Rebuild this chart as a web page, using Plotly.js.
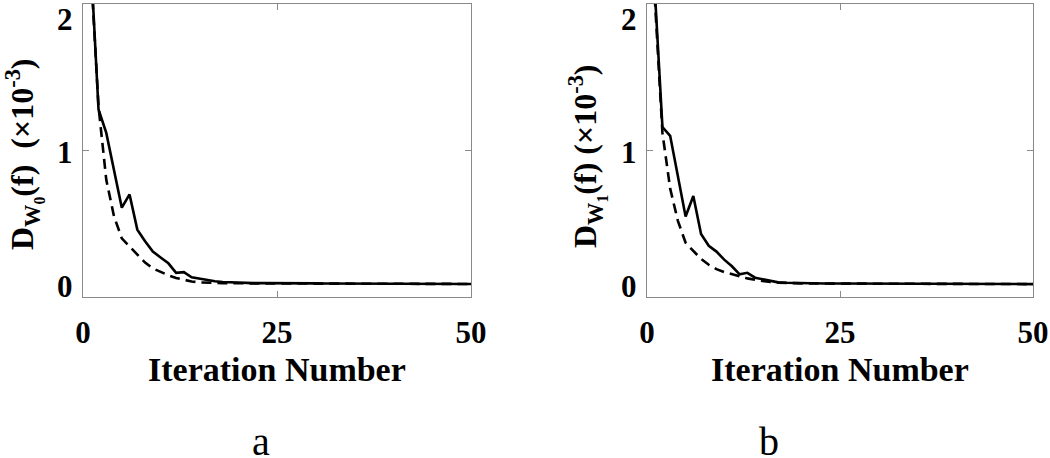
<!DOCTYPE html>
<html>
<head>
<meta charset="utf-8">
<script src="https://cdn.plot.ly/plotly-3.0.1.min.js"></script>
<style>html,body{margin:0;padding:0;background:#fff;}#chart{width:1050px;height:458px;}</style>
</head>
<body>
<div id="chart"></div>
<script>
// Iteration numbers
const iterations = Array.from({length: 50}, (_, i) => i + 1);

// Panel a (W0) values, x10^-3
const aSolid = [2.30,1.28,1.12,0.865,0.61,0.70,0.46,0.38,0.31,0.27,
                0.23,0.165,0.17,0.135,0.125,0.115,0.108,0.102,0.099,0.097,
                0.096,0.095,0.095,0.094,0.094,0.094,0.093,0.093,0.093,0.093,
                0.092,0.092,0.092,0.092,0.091,0.091,0.091,0.091,0.091,0.090,
                0.090,0.090,0.090,0.090,0.089,0.089,0.089,0.089,0.089,0.089];
const aDashed = [2.25,1.30,0.80,0.55,0.40,0.345,0.29,0.235,0.195,0.17,
                 0.148,0.13,0.116,0.106,0.100,0.097,0.095,0.094,0.094,0.093,
                 0.093,0.093,0.092,0.092,0.092,0.092,0.092,0.091,0.091,0.091,
                 0.091,0.091,0.091,0.090,0.090,0.090,0.090,0.090,0.090,0.090,
                 0.089,0.089,0.089,0.089,0.089,0.089,0.089,0.089,0.089,0.089];

// Panel b (W1) values, x10^-3
const bSolid = [2.10,1.16,1.10,0.82,0.55,0.69,0.43,0.35,0.31,0.255,
                0.21,0.155,0.165,0.132,0.12,0.11,0.10,0.097,0.095,0.094,
                0.093,0.093,0.092,0.092,0.092,0.091,0.091,0.091,0.091,0.090,
                0.090,0.090,0.090,0.090,0.089,0.089,0.089,0.089,0.089,0.089,
                0.089,0.088,0.088,0.088,0.088,0.088,0.088,0.088,0.088,0.088];
const bDashed = [2.05,1.12,0.74,0.52,0.37,0.315,0.26,0.22,0.19,0.17,
                 0.155,0.14,0.127,0.117,0.108,0.102,0.098,0.095,0.094,0.093,
                 0.092,0.092,0.092,0.091,0.091,0.091,0.091,0.090,0.090,0.090,
                 0.090,0.090,0.089,0.089,0.089,0.089,0.089,0.089,0.089,0.089,
                 0.088,0.088,0.088,0.088,0.088,0.088,0.088,0.088,0.088,0.088];

// Tick labels
const xTicks = [0, 25, 50];
const yTicks = [0, 1, 2];
const xTitle = 'Iteration Number';
const yTitleA = 'D<sub>W<sub>0</sub></sub>(f)  (\u00d710<sup>-3</sup>)';
const yTitleB = 'D<sub>W<sub>1</sub></sub>(f) (\u00d710<sup>-3</sup>)';
const panelLabels = ['a', 'b'];

const W = 1050, H = 458;
const px = v => v / W;
const py = v => 1 - v / H;

const solidLine = {color: '#000', width: 2.6};
const dashedLine = {color: '#000', width: 2.6, dash: '10px,6px'};

const traces = [
  {x: iterations, y: aDashed, xaxis: 'x', yaxis: 'y', mode: 'lines', line: dashedLine},
  {x: iterations, y: aSolid, xaxis: 'x', yaxis: 'y', mode: 'lines', line: solidLine},
  {x: iterations, y: bDashed, xaxis: 'x2', yaxis: 'y2', mode: 'lines', line: dashedLine},
  {x: iterations, y: bSolid, xaxis: 'x2', yaxis: 'y2', mode: 'lines', line: solidLine}
];

const FAMILY = 'Liberation Serif, Times New Roman, serif';
const tickFont = {family: FAMILY, size: 31, color: '#000', weight: 'bold'};
const axisCommon = {
  showline: true, linecolor: '#8a8a8a', linewidth: 1, mirror: 'ticks',
  ticks: 'inside', ticklen: 6, tickcolor: '#8a8a8a', tickwidth: 1,
  showgrid: false, zeroline: false, tickfont: tickFont, fixedrange: true
};

function xa(domain, anchor) {
  return Object.assign({}, axisCommon, {domain: domain, anchor: anchor, range: [0, 50],
    tickmode: 'array', tickvals: xTicks, ticktext: xTicks.map(String), ticklabelstandoff: 8});
}
function ya(anchor) {
  return Object.assign({}, axisCommon, {domain: [py(297), py(4)], anchor: anchor, range: [0, 2],
    tickmode: 'array', tickvals: yTicks, showticklabels: false});
}

const serifBold = {family: FAMILY, size: 34, color: '#000', weight: 'bold'};
const yTitleFont = {family: FAMILY, size: 32, color: '#000', weight: 'bold'};
const labelFont = {family: FAMILY, size: 40, color: '#000'};

// y tick labels (MATLAB style: end labels kept inside the axis span)
function yTickAnnots(xref, yref) {
  const top = Math.max.apply(null, yTicks), bottom = Math.min.apply(null, yTicks);
  return yTicks.map(v => ({
    xref: xref, yref: yref, x: 0, y: v, xanchor: 'right',
    yanchor: v === top ? 'top' : (v === bottom ? 'bottom' : 'middle'),
    xshift: -8, yshift: v === top ? 4 : (v === bottom ? -9 : -2),
    text: String(v), showarrow: false, font: tickFont
  }));
}

const layout = {
  width: W, height: H,
  margin: {l: 0, r: 0, t: 0, b: 0},
  paper_bgcolor: '#fff', plot_bgcolor: '#fff',
  showlegend: false,
  xaxis: xa([px(83), px(471)], 'y'),
  yaxis: ya('x'),
  xaxis2: xa([px(647), px(1033)], 'y2'),
  yaxis2: ya('x2'),
  annotations: [
    {xref: 'paper', yref: 'paper', x: px(277), y: py(369), xanchor: 'center', yanchor: 'middle',
     text: xTitle, showarrow: false, font: serifBold},
    {xref: 'paper', yref: 'paper', x: px(840), y: py(369), xanchor: 'center', yanchor: 'middle',
     text: xTitle, showarrow: false, font: serifBold},
    {xref: 'paper', yref: 'paper', x: px(24), y: py(154), xanchor: 'center', yanchor: 'middle',
     text: yTitleA, textangle: -90, showarrow: false, font: yTitleFont},
    {xref: 'paper', yref: 'paper', x: px(587), y: py(156), xanchor: 'center', yanchor: 'middle',
     text: yTitleB, textangle: -90, showarrow: false, font: yTitleFont},
    {xref: 'paper', yref: 'paper', x: px(261), y: py(441), xanchor: 'center', yanchor: 'middle',
     text: panelLabels[0], showarrow: false, font: labelFont},
    {xref: 'paper', yref: 'paper', x: px(769), y: py(441), xanchor: 'center', yanchor: 'middle',
     text: panelLabels[1], showarrow: false, font: labelFont}
  ].concat(yTickAnnots('x', 'y'), yTickAnnots('x2', 'y2'))
};

Plotly.newPlot('chart', traces, layout, {displayModeBar: false, staticPlot: true});
</script>
</body>
</html>
